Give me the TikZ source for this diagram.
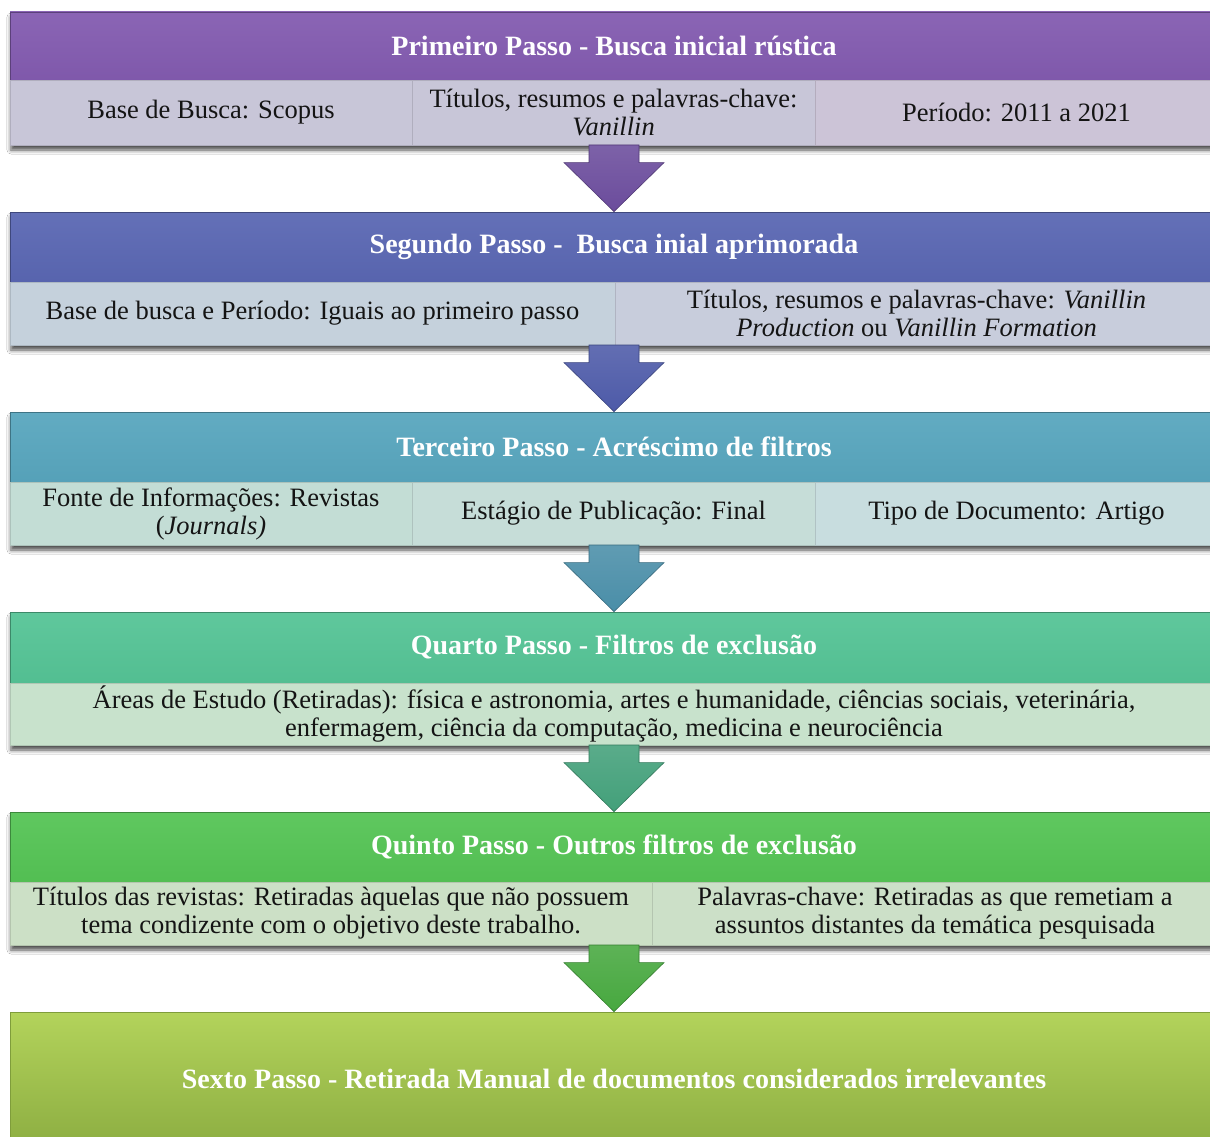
\documentclass[tikz,border=0pt]{standalone}
\usepackage{fontspec}
\setmainfont{Liberation Serif}
\usetikzlibrary{calc,shadows.blur}

% step colours: header bar, sub-row cells, arrow
\definecolor{hdA}{HTML}{835BB0}\definecolor{clA}{HTML}{C8C6D8}\definecolor{clAr}{HTML}{CCC4D7}\definecolor{arA}{HTML}{6B4C9C}
\definecolor{hdB}{HTML}{5A67B3}\definecolor{clB}{HTML}{C5D1DC}\definecolor{clBr}{HTML}{C8CDDC}\definecolor{arB}{HTML}{4D5AA8}
\definecolor{hdC}{HTML}{58A6BE}\definecolor{clC}{HTML}{C3DDD5}\definecolor{clCm}{HTML}{C6DDD8}\definecolor{clCr}{HTML}{C8DDDF}\definecolor{arC}{HTML}{4A8EA8}
\definecolor{hdD}{HTML}{55C496}\definecolor{clD}{HTML}{C8E2CC}\definecolor{arD}{HTML}{43A07A}
\definecolor{hdE}{HTML}{55C455}\definecolor{clE}{HTML}{CCE0C6}\definecolor{clEr}{HTML}{CCE0C8}\definecolor{arE}{HTML}{47A83F}
\definecolor{hdFtop}{HTML}{B3D35B}\definecolor{hdFbot}{HTML}{8DAE42}

% block arrow from a coordinate down to the top of a node
\newcommand\stepdown[3]{%
  \path[top color=#3!88!white, bottom color=#3, draw=#3!75!black, line width=0.6]
    ($(#1)+(-25,0)$) -- ($(#1)+(25,0)$) -- ($(#2.north)+(25,-49)$) -- ($(#2.north)+(50,-49)$)
    -- (#2.north) -- ($(#2.north)+(-50,-49)$) -- ($(#2.north)+(-25,-49)$) -- cycle;}

\begin{document}
\begin{tikzpicture}[x=1pt,y=-1pt,
  headbar/.style={rectangle, inner sep=0pt, minimum width=1208, text=white,
    font=\fontsize{28}{31}\selectfont\bfseries, draw=#1!70!black, line width=0.8,
    top color=#1!94!white, bottom color=#1!97!black},
  cell/.style={rectangle, inner sep=0pt, align=center, text=black!92,
    font=\fontsize{26.5}{28}\selectfont, draw=#1!88!black, line width=0.6, fill=#1},
  backing/.style={fill=white, blur shadow={shadow xshift=1pt, shadow yshift=-5pt, shadow blur radius=4pt, shadow opacity=70}}]

\useasboundingbox (0,0) rectangle (1210,1137);
\clip (0,0) rectangle (1210,1137);
\fill[white] (0,0) rectangle (1210,1137);

% shadowed backings of the blocks
\fill[backing] (10,12) rectangle (1218,145);
\fill[backing] (10,212) rectangle (1218,345);
\fill[backing] (10,412) rectangle (1218,545);
\fill[backing] (10,612) rectangle (1218,745);
\fill[backing] (10,812) rectangle (1218,945);

% block 1
\node[headbar=hdA, minimum height=68] (h1) at (614,46) {Primeiro Passo - Busca inicial rústica};
\node[cell=clA, minimum width=402, minimum height=65] (c11) at (211,112.5) {Base de Busca: Scopus};
\node[cell=clA, minimum width=403, minimum height=65] (c12) at (613.5,112.5) {Títulos, resumos e palavras-chave:\\\textit{Vanillin}};
\node[cell=clAr, minimum width=403, minimum height=65] (c13) at (1016.5,112.5) {Período: 2011 a 2021};
\coordinate (a1) at (614,145);

% block 2
\node[headbar=hdB, minimum height=70] (h2) at (614,247) {Segundo Passo -\ \ Busca inial aprimorada};
\node[cell=clB, minimum width=605, minimum height=63] (c21) at (312.5,313.5) {Base de busca e Período: Iguais ao primeiro passo};
\node[cell=clBr, minimum width=603, minimum height=63] (c22) at (916.5,313.5) {Títulos, resumos e palavras-chave: \textit{Vanillin}\\\textit{Production} ou \textit{Vanillin Formation}};
\coordinate (a2) at (614,345);

% block 3
\node[headbar=hdC, minimum height=70] (h3) at (614,447) {Terceiro Passo - Acréscimo de filtros};
\node[cell=clC, minimum width=402, minimum height=63] (c31) at (211,513.5) {Fonte de Informações: Revistas\\(\textit{Journals)}};
\node[cell=clCm, minimum width=403, minimum height=63] (c32) at (613.5,513.5) {Estágio de Publicação: Final};
\node[cell=clCr, minimum width=403, minimum height=63] (c33) at (1016.5,513.5) {Tipo de Documento: Artigo};
\coordinate (a3) at (614,545);

% block 4
\node[headbar=hdD, minimum height=71] (h4) at (614,647.5) {Quarto Passo - Filtros de exclusão};
\node[cell=clD, minimum width=1208, minimum height=62] (c41) at (614,714) {Áreas de Estudo (Retiradas): física e astronomia, artes e humanidade, ciências sociais, veterinária,\\enfermagem, ciência da computação, medicina e neurociência};
\coordinate (a4) at (614,745);

% block 5
\node[headbar=hdE, minimum height=70] (h5) at (614,847) {Quinto Passo - Outros filtros de exclusão};
\node[cell=clE, minimum width=642, minimum height=63] (c51) at (331,913.5) {Títulos das revistas: Retiradas àquelas que não possuem\\tema condizente com o objetivo deste trabalho.};
\node[cell=clEr, minimum width=566, minimum height=63] (c52) at (935,913.5) {Palavras-chave: Retiradas as que remetiam a\\assuntos distantes da temática pesquisada};
\coordinate (a5) at (614,945);

% block 6
\node[rectangle, inner sep=0pt, minimum width=1208, minimum height=134, text=white,
  font=\fontsize{28}{31}\selectfont\bfseries, draw=hdFbot!90!black, line width=0.8,
  top color=hdFtop, bottom color=hdFbot] (h6) at (614,1079)
  {Sexto Passo - Retirada Manual de documentos considerados irrelevantes};

% arrows between the steps
\stepdown{a1}{h2}{arA}
\stepdown{a2}{h3}{arB}
\stepdown{a3}{h4}{arC}
\stepdown{a4}{h5}{arD}
\stepdown{a5}{h6}{arE}

\end{tikzpicture}
\end{document}
